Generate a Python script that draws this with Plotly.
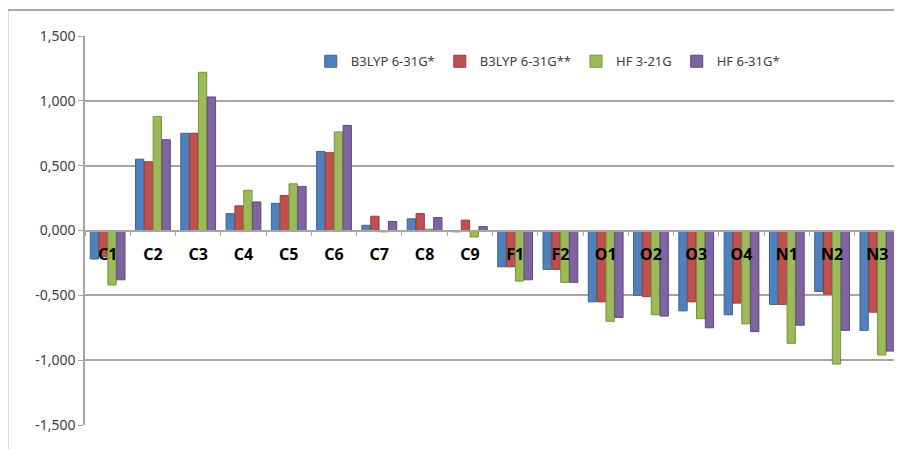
import plotly.graph_objects as go

atoms = ["C1", "C2", "C3", "C4", "C5", "C6", "C7", "C8", "C9",
         "F1", "F2", "O1", "O2", "O3", "O4", "N1", "N2", "N3"]

b3lyp_631gs = [-0.22, 0.55, 0.75, 0.13, 0.21, 0.61, 0.04, 0.09, -0.01,
               -0.28, -0.30, -0.55, -0.50, -0.62, -0.65, -0.57, -0.47, -0.77]
b3lyp_631gss = [-0.20, 0.53, 0.75, 0.19, 0.27, 0.60, 0.11, 0.13, 0.08,
                -0.28, -0.30, -0.55, -0.51, -0.55, -0.56, -0.57, -0.49, -0.63]
hf_321g = [-0.42, 0.88, 1.22, 0.31, 0.36, 0.76, -0.01, 0.01, -0.05,
           -0.39, -0.40, -0.70, -0.65, -0.68, -0.72, -0.87, -1.03, -0.96]
hf_631gs = [-0.38, 0.70, 1.03, 0.22, 0.34, 0.81, 0.07, 0.10, 0.03,
            -0.38, -0.40, -0.67, -0.66, -0.75, -0.78, -0.73, -0.77, -0.93]

y_ticks = [-1.5, -1.0, -0.5, 0.0, 0.5, 1.0, 1.5]
y_tick_text = ["-1,500", "-1,000", "-0,500", "0,000", "0,500", "1,000", "1,500"]

series = [
    ("B3LYP 6-31G*", b3lyp_631gs, "#4F81BD", "#3A6596"),
    ("B3LYP 6-31G**", b3lyp_631gss, "#C0504D", "#983C3A"),
    ("HF 3-21G", hf_321g, "#9BBB59", "#76933C"),
    ("HF 6-31G*", hf_631gs, "#8064A2", "#5F4A7A"),
]

fig = go.Figure()
for name, vals, color, edge in series:
    fig.add_trace(go.Bar(
        x=atoms, y=vals, name=name,
        marker=dict(color=color, line=dict(color=edge, width=1)),
    ))

# page body has an 8px margin, so the figure is sized to fit the window
fig.update_layout(
    width=894, height=441,
    margin=dict(l=77, r=2, t=28, b=24),
    paper_bgcolor="white",
    plot_bgcolor="white",
    font=dict(family="Noto Sans, Liberation Sans, sans-serif", color="#404040", size=12),
    barmode="group",
    bargap=0.22,
    bargroupgap=0.06,
    showlegend=True,
    legend=dict(
        orientation="h", x=0.277, y=0.935, xanchor="left", yanchor="middle",
        font=dict(size=13, color="#404040"), bgcolor="rgba(0,0,0,0)",
        itemwidth=30, tracegroupgap=0,
    ),
    xaxis=dict(
        anchor="free", position=0.5,
        showline=True, linecolor="#A6A6A6", linewidth=1.5,
        ticks="outside", tickson="boundaries", ticklen=5, tickcolor="#A6A6A6",
        ticklabelstandoff=10,
        tickfont=dict(size=16, color="black", family="Noto Sans, sans-serif", weight="bold"),
        showgrid=False, zeroline=False,
    ),
    yaxis=dict(
        range=[-1.5, 1.5],
        tickvals=y_ticks, ticktext=y_tick_text,
        showgrid=True, gridcolor="#A6A6A6", gridwidth=1.5,
        zeroline=False,
        showline=True, linecolor="#A6A6A6", linewidth=1.5,
        ticks="outside", ticklen=5, tickcolor="#A6A6A6",
        tickfont=dict(size=14, color="#404040"),
    ),
)

# outer chart border (cut off at the right and bottom in the original)
fig.add_shape(type="rect", xref="paper", yref="paper",
              x0=-0.095, x1=1.05, y0=-0.1, y1=1.067,
              line=dict(color="#8C8C8C", width=1.5), layer="below")

fig.write_html("out.html")
